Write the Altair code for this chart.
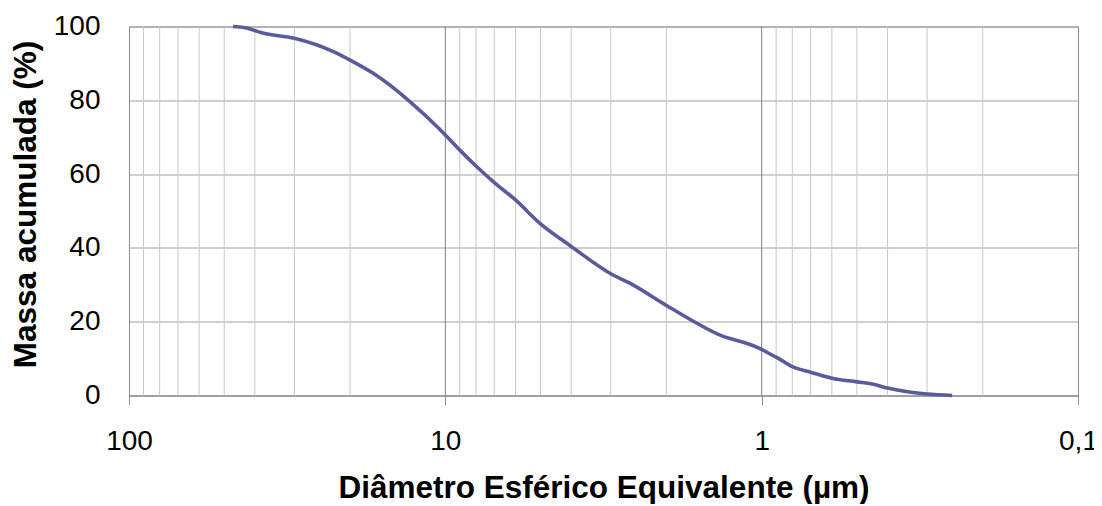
import altair as alt
import pandas as pd

# Cumulative mass curve (diameter in µm, cumulative mass in %)
diam = [46.9, 42.5, 38.1, 30.0, 22.6, 20.0, 16.9, 13.0, 10.4, 10.0, 9.0, 8.0,
        7.0, 6.0, 5.0, 4.0, 3.0, 2.62, 2.0, 1.65, 1.33, 1.15, 1.0, 0.93, 0.9,
        0.8, 0.7, 0.6, 0.5, 0.447, 0.4, 0.342, 0.3, 0.25]
mass = [100.0, 99.6, 98.3, 96.8, 93.2, 90.9, 87.3, 79.8, 72.1, 70.6, 66.5, 62.2,
        57.7, 53.0, 46.5, 40.4, 33.0, 30.5, 24.4, 20.2, 16.1, 14.5, 12.5, 11.0, 10.4,
        7.8, 6.3, 4.7, 3.7, 3.1, 2.0, 0.95, 0.4, 0.0]

x_ticks = [100, 10, 1, 0.1]
y_ticks = [0, 20, 40, 60, 80, 100]
minor_grid = [0.2, 0.3, 0.4, 0.5, 0.6, 0.7, 0.8, 0.9,
              2, 3, 4, 5, 6, 7, 8, 9,
              20, 30, 40, 50, 60, 70, 80, 90]
major_grid = [1, 10]

curve = pd.DataFrame({"d": diam, "m": mass})
minor_df = pd.DataFrame({"d": minor_grid})
major_df = pd.DataFrame({"d": major_grid})

xscale = alt.Scale(type="log", domain=[0.1, 100], reverse=True, nice=False)

x_axis = alt.Axis(
    values=x_ticks,
    grid=False,
    labelExpr="replace(toString(datum.value), '.', ',')",
    tickSize=9,
    tickColor="#8c8c8c",
    domainColor="#8c8c8c",
    labelBaseline="alphabetic",
    labelPadding=45,
    labelFlush=False,
    labelOverlap=False,
    labelFont="Liberation Sans",
    labelFontSize=28,
    labelColor="#000000",
    title="Diâmetro Esférico Equivalente (µm)",
    titleFont="Liberation Sans",
    titleFontSize=31.5,
    titleFontWeight="bold",
    titleColor="#000000",
    titleX=474.5,
    titleY=101.5,
    titleBaseline="alphabetic",
    titleAlign="center",
)

y_axis = alt.Axis(
    values=y_ticks,
    grid=True,
    gridColor="#a0a0a0",
    gridWidth=1,
    ticks=False,
    domainColor="#8c8c8c",
    labelPadding=29,
    labelBaseline="middle",
    labelFlush=False,
    labelFont="Liberation Sans",
    labelFontSize=28,
    labelColor="#000000",
    title="Massa acumulada (%)",
    titleFont="Liberation Sans",
    titleFontSize=31.5,
    titleFontWeight="bold",
    titleColor="#000000",
    titleX=-94,
    titleY=177.5,
    titleAngle=-90,
    titleBaseline="alphabetic",
    titleAlign="center",
)

minor = alt.Chart(minor_df).mark_rule(color="#c8c8c8", strokeWidth=1).encode(
    x=alt.X("d:Q", scale=xscale, axis=x_axis)
)
major = alt.Chart(major_df).mark_rule(color="#808080", strokeWidth=1).encode(
    x=alt.X("d:Q", scale=xscale, axis=x_axis)
)

line = alt.Chart(curve).mark_line(
    color="#5a5b9b", strokeWidth=3.6, interpolate="monotone"
).encode(
    x=alt.X("d:Q", scale=xscale, axis=x_axis),
    y=alt.Y("m:Q", scale=alt.Scale(domain=[0, 100], nice=False), axis=y_axis),
    order=alt.Order("d:Q", sort="descending"),
)

chart = (
    alt.layer(minor, major, line)
    .properties(
        width=949,
        height=369,
        background="white",
        autosize=alt.AutoSizeParams(type="none"),
        padding={"left": 121, "top": 18.5, "right": 16, "bottom": 108},
    )
    .configure_view(stroke="#8c8c8c", strokeWidth=1)
)

chart.save("out.html", embed_options={"renderer": "svg", "actions": False})
